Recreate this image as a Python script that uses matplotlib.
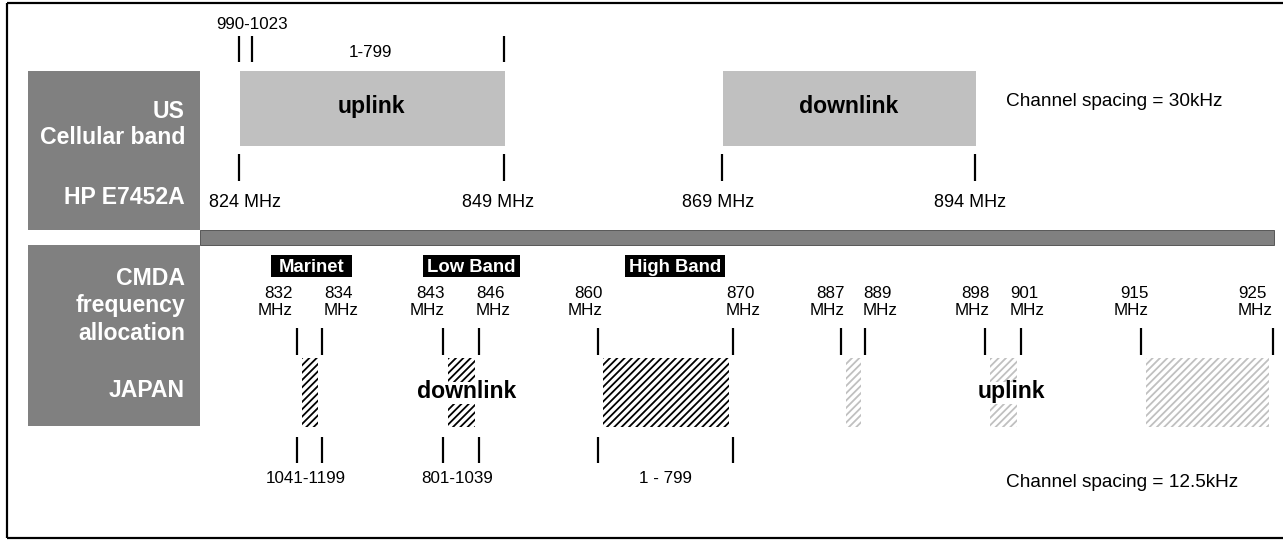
import matplotlib
matplotlib.use('Agg')
import matplotlib.pyplot as plt
from matplotlib.patches import Rectangle

# ---------------- data ----------------
us_row_labels = ['US', 'Cellular band', 'HP E7452A']
us_freqs_mhz = [824, 849, 869, 894]
us_band_names = ['uplink', 'downlink']
us_band_edges = [(824, 849), (869, 894)]
us_channel_labels = ['990-1023', '1-799']
us_spacing = 'Channel spacing = 30kHz'

jp_row_labels = ['CMDA', 'frequency', 'allocation', 'JAPAN']
jp_freqs_mhz = [832, 834, 843, 846, 860, 870, 887, 889, 898, 901, 915, 925]
jp_band_names = ['Marinet', 'Low Band', 'High Band']
jp_blocks = [(832, 834), (843, 846), (860, 870), (887, 889), (898, 901), (915, 925)]
jp_block_kind = ['down', 'down', 'down', 'up', 'up', 'up']
jp_link_labels = ['downlink', 'uplink']
jp_channel_labels = ['1041-1199', '801-1039', '1 - 799']
jp_spacing = 'Channel spacing = 12.5kHz'

# ---------------- layout (schematic positions, pixels) ----------------
DPI = 88
W, H = 1283, 540
us_x = {824: 239, 849: 504, 869: 722, 894: 975}
us_label_x = [245, 498, 718, 970]
us_top_ticks_x = [239, 252, 504]
us_chan_label_pos = [(252, 29), (370, 57)]
jp_x = {832: 297, 834: 322, 843: 443, 846: 479, 860: 598, 870: 733,
        887: 841, 889: 865, 898: 985, 901: 1021, 915: 1141, 925: 1273}
jp_label_anchor = {832: ('right', 293), 834: ('left', 324), 843: ('right', 445),
                   846: ('left', 476), 860: ('right', 603), 870: ('left', 726),
                   887: ('right', 845), 889: ('left', 863), 898: ('right', 990),
                   901: ('left', 1010), 915: ('right', 1149), 925: ('left', 1238)}
jp_band_boxes = [(271, 352), (423, 520), (625, 725)]
jp_lower_tick_freqs = [832, 834, 843, 846, 860, 870]
jp_chan_label_x = [306, 457, 665]
jp_link_label_pos = [(467, 1), (1011, 4)]  # (x, index of block to split)

GRAY = '#808080'
LIGHT = '#c0c0c0'
FONT = ['Liberation Sans', 'DejaVu Sans']

plt.rcParams['font.family'] = FONT
plt.rcParams['hatch.linewidth'] = 1.8 * 72 / DPI


def pt(px):
    return px * 72.0 / DPI


fig = plt.figure(figsize=(W / DPI, H / DPI), dpi=DPI)
ax = fig.add_axes([0, 0, 1, 1])
ax.set_xlim(0, W)
ax.set_ylim(H, 0)
ax.axis('off')


def text(x, y, s, px, bold=False, color='black', ha='center', va='baseline', z=5):
    ax.text(x, y, s, fontsize=pt(px), fontweight='bold' if bold else 'normal',
            color=color, ha=ha, va=va, zorder=z)


def vline(x, y0, y1):
    ax.plot([x, x], [y0, y1], color='black', lw=pt(2.2), solid_capstyle='butt', zorder=4)


# outer frame
ax.plot([7, W + 5], [3, 3], color='black', lw=pt(2.2), solid_capstyle='butt')
ax.plot([7, 7], [3, 538], color='black', lw=pt(2.2), solid_capstyle='butt')
ax.plot([7, W + 5], [538, 538], color='black', lw=pt(2.2), solid_capstyle='butt')

# left label boxes
ax.add_patch(Rectangle((28, 71), 172, 159, facecolor=GRAY, edgecolor='none'))
ax.add_patch(Rectangle((28, 245), 172, 181, facecolor=GRAY, edgecolor='none'))
for s, y in zip(us_row_labels, [118, 144, 204]):
    text(185, y, s, 23, bold=True, color='white', ha='right')
for s, y in zip(jp_row_labels, [285, 312, 340, 397]):
    text(185, y, s, 23, bold=True, color='white', ha='right')

# separator bar
ax.add_patch(Rectangle((200, 230), 1074, 15, facecolor=GRAY, edgecolor='#5a5a5a', lw=pt(1)))

# ---- US section ----
for (f0, f1), name in zip(us_band_edges, us_band_names):
    x0, x1 = us_x[f0], us_x[f1]
    ax.add_patch(Rectangle((x0 + 1, 71), x1 - x0, 75, facecolor=LIGHT, edgecolor='none'))
    text((x0 + x1) / 2, 113, name, 23, bold=True)
for x in us_top_ticks_x:
    vline(x, 36, 62)
for s, (x, y) in zip(us_channel_labels, us_chan_label_pos):
    text(x, y, s, 17)
for f, lx in zip(us_freqs_mhz, us_label_x):
    vline(us_x[f], 154, 181)
    text(lx, 207, f'{f} MHz', 18)
text(1006, 106, us_spacing, 19, ha='left')

# ---- Japan section ----
for name, (x0, x1) in zip(jp_band_names, jp_band_boxes):
    ax.add_patch(Rectangle((x0, 255), x1 - x0, 22, facecolor='black', edgecolor='none'))
    text((x0 + x1) / 2, 272, name, 18.5, bold=True, color='white')

for f in jp_freqs_mhz:
    side, ax_x = jp_label_anchor[f]
    text(ax_x, 298, str(f), 17, ha=side)
    text(ax_x, 315, 'MHz', 17, ha=side)
    vline(jp_x[f], 328, 355)

for f in jp_lower_tick_freqs:
    vline(jp_x[f], 437, 463)

for (f0, f1), kind in zip(jp_blocks, jp_block_kind):
    x0, x1 = jp_x[f0] + 5, jp_x[f1] - 4
    col = 'black' if kind == 'down' else LIGHT
    ax.add_patch(Rectangle((x0, 358), x1 - x0, 69, facecolor='none', edgecolor=col,
                           hatch='////', lw=0, zorder=2))

for s, (x, bi) in zip(jp_link_labels, jp_link_label_pos):
    f0, f1 = jp_blocks[bi]
    x0, x1 = jp_x[f0] + 2, jp_x[f1] - 1
    ax.add_patch(Rectangle((x0, 382), x1 - x0, 22, facecolor='white', edgecolor='none', zorder=3))
    text(x, 398, s, 23, bold=True)

for s, x in zip(jp_channel_labels, jp_chan_label_x):
    text(x, 483, s, 17)
text(1006, 487, jp_spacing, 19, ha='left')

fig.savefig('out.png', dpi=DPI)
